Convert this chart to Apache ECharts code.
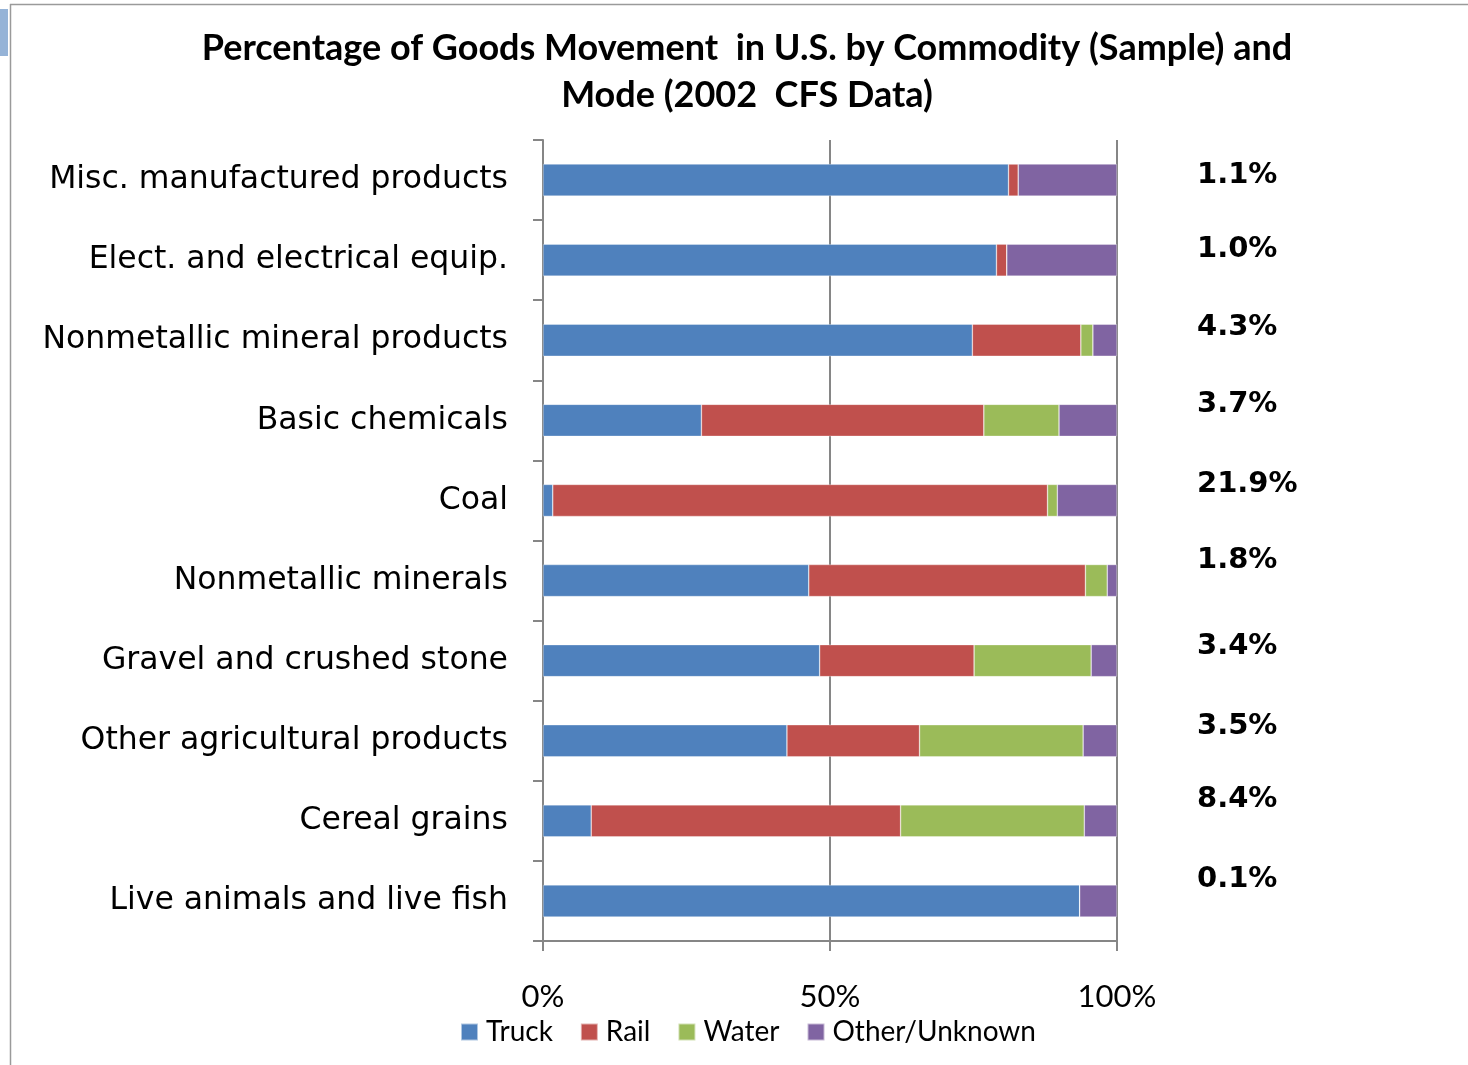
<!DOCTYPE html>
<html>
<head>
<meta charset="utf-8">
<title>Percentage of Goods Movement in U.S. by Commodity and Mode</title>
<script src="https://cdn.jsdelivr.net/npm/echarts@6/dist/echarts.min.js"></script>
<style>
  html, body { margin: 0; padding: 0; background: #ffffff; }
  #chart { width: 1468px; height: 1065px; }
</style>
</head>
<body>
<div id="chart"></div>
<script>
// Commodities, top to bottom
const commodities = [
  'Misc. manufactured products',
  'Elect. and electrical equip.',
  'Nonmetallic mineral products',
  'Basic chemicals',
  'Coal',
  'Nonmetallic minerals',
  'Gravel and crushed stone',
  'Other agricultural products',
  'Cereal grains',
  'Live animals and live fish'
];

// Mode shares (% of each commodity's movement)
const truck = [81.1, 79.0, 74.8, 27.6, 1.7, 46.3, 48.2, 42.5, 8.4, 93.5];
const rail  = [1.7, 1.8, 18.9, 49.2, 86.2, 48.2, 26.9, 23.1, 53.9, 0.0];
const water = [0.0, 0.0, 2.1, 13.1, 1.7, 3.8, 20.4, 28.5, 32.0, 0.0];
const other = [17.2, 19.2, 4.2, 10.1, 10.4, 1.7, 4.5, 5.9, 5.7, 6.5];

// Commodity share of all goods movement, printed beside each bar
const commodityShare = ['1.1%', '1.0%', '4.3%', '3.7%', '21.9%', '1.8%', '3.4%', '3.5%', '8.4%', '0.1%'];

const modeNames = ['Truck', 'Rail', 'Water', 'Other/Unknown'];
const modeColors = ['#4f81bd', '#c0504d', '#9bbb59', '#8064a2'];
const modeValues = [truck, rail, water, other];

const axisGray = '#868686';
const bodyFont = 'Lato, "Open Sans", sans-serif';
const wideFont = '"DejaVu Sans", "Open Sans", sans-serif';

// The share text boxes sit a little above their bars, each placed by hand
const shareLabelLift = [-5, -11, -13, -16, -16, -20, -14, -14, -21, -21];

const chart = echarts.init(document.getElementById('chart'), null, { renderer: 'canvas' });

const series = modeNames.map((name, i) => {
  const isLast = i === modeNames.length - 1;
  const s = {
    name: name,
    type: 'bar',
    stack: 'mode',
    barWidth: '40%',
    data: isLast
      ? modeValues[i].map((v, k) => ({ value: v, label: { offset: [0, shareLabelLift[k]] } }))
      : modeValues[i],
    itemStyle: {
      color: modeColors[i],
      borderColor: 'rgba(255,255,255,0.55)',
      borderWidth: 0.6
    },
    emphasis: { disabled: true }
  };
  if (isLast) {
    s.label = {
      show: true,
      position: 'right',
      distance: 80,
      align: 'left',
      fontFamily: wideFont,
      fontWeight: 'bold',
      fontSize: 29,
      color: '#000000',
      formatter: p => commodityShare[p.dataIndex]
    };
  }
  return s;
});

const option = {
  backgroundColor: '#ffffff',
  animation: false,
  title: {
    text: 'Percentage of Goods Movement  in U.S. by Commodity (Sample) and\nMode (2002  CFS Data)',
    left: 742,
    textAlign: 'center',
    top: 20,
    textStyle: {
      fontFamily: bodyFont,
      fontWeight: 'bold',
      fontSize: 36,
      lineHeight: 47,
      color: '#000000'
    }
  },
  legend: {
    data: modeNames,
    left: 460,
    top: 1018,
    padding: 0,
    itemWidth: 17,
    itemHeight: 17,
    itemGap: 27,
    icon: 'rect',
    textStyle: {
      fontFamily: bodyFont,
      fontSize: 28,
      color: '#000000',
      padding: [0, 0, 0, 3]
    }
  },
  grid: {
    left: 543,
    right: 351,
    top: 140,
    bottom: 124,
    containLabel: false
  },
  xAxis: {
    type: 'value',
    min: 0,
    max: 100,
    interval: 50,
    axisLine: { show: true, lineStyle: { color: axisGray, width: 2 } },
    axisTick: { show: true, length: 10, lineStyle: { color: axisGray, width: 2 } },
    splitLine: { show: true, lineStyle: { color: axisGray, width: 2 } },
    axisLabel: {
      margin: 40,
      fontFamily: bodyFont,
      fontSize: 31,
      color: '#000000',
      formatter: v => v + '%'
    }
  },
  yAxis: {
    type: 'category',
    data: commodities,
    inverse: true,
    axisLine: { show: true, lineStyle: { color: axisGray, width: 2 } },
    axisTick: { show: true, length: 10, alignWithLabel: false, lineStyle: { color: axisGray, width: 2 } },
    axisLabel: {
      margin: 35,
      fontFamily: wideFont,
      fontSize: 31.5,
      color: '#000000',
      padding: [6, 0, 0, 0]
    }
  },
  series: series,
  graphic: [
    {
      type: 'line',
      shape: { x1: 10, y1: 4.5, x2: 1468, y2: 4.5 },
      style: { stroke: '#9a9a9a', lineWidth: 1.5 },
      silent: true
    },
    {
      type: 'line',
      shape: { x1: 10.5, y1: 4, x2: 10.5, y2: 1065 },
      style: { stroke: '#9a9a9a', lineWidth: 1.5 },
      silent: true
    },
    {
      type: 'rect',
      shape: { x: 0, y: 9, width: 8, height: 47 },
      style: { fill: '#95b3d7' },
      silent: true
    }
  ]
};

chart.setOption(option);
</script>
</body>
</html>
